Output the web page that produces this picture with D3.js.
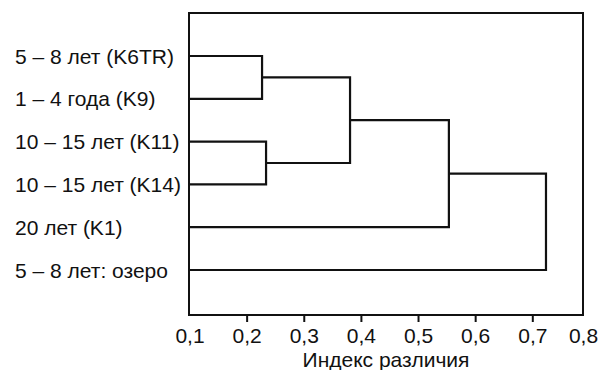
<!DOCTYPE html>
<html>
<head>
<meta charset="utf-8">
<script src="https://cdn.jsdelivr.net/npm/d3@7"></script>
<style>
  html, body { margin: 0; padding: 0; background: #fff; }
  svg { display: block; }
  text { font-family: "Liberation Sans", Arial, sans-serif; fill: #111; }
</style>
</head>
<body>
<svg id="chart" width="600" height="370"></svg>
<script>
// Leaves (top to bottom)
const leaves = ["5 – 8 лет (K6TR)", "1 – 4 года (K9)", "10 – 15 лет (K11)", "10 – 15 лет (K14)", "20 лет (K1)", "5 – 8 лет: озеро"];
// Linkage: node index n+i is created by merge i (n = number of leaves)
const mergeA = [0, 2, 6, 8, 9];
const mergeB = [1, 3, 7, 4, 5];
const mergeHeight = [0.227, 0.234, 0.381, 0.554, 0.727];
// Axis
const tickValues = [0.1, 0.2, 0.3, 0.4, 0.5, 0.6, 0.7, 0.8];
const axisTitle = "Индекс различия";

const svg = d3.select("#chart");
const frame = { left: 189, right: 583, top: 13, bottom: 315 };
const fontSize = 21;

const x = d3.scaleLinear().domain([0.1, 0.7, 0.8]).range([189.5, 532.3, 583]);
const y = d3.scalePoint().domain(d3.range(leaves.length)).range([56, 270]);

const n = leaves.length;
const nodeX = [], nodeY = [];
leaves.forEach((l, i) => { nodeX[i] = x.domain()[0]; nodeY[i] = y(i); });
mergeA.forEach((a, i) => {
  const b = mergeB[i];
  nodeX[n + i] = mergeHeight[i];
  nodeY[n + i] = (nodeY[a] + nodeY[b]) / 2;
});

const g = svg.append("g");
const stroke = "#111";
mergeA.forEach((a, i) => {
  const b = mergeB[i];
  const hx = x(mergeHeight[i]);
  const path = d3.path();
  path.moveTo(x(nodeX[a]), nodeY[a]);
  path.lineTo(hx, nodeY[a]);
  path.lineTo(hx, nodeY[b]);
  path.lineTo(x(nodeX[b]), nodeY[b]);
  g.append("path").attr("d", path.toString())
    .attr("fill", "none").attr("stroke", stroke).attr("stroke-width", 2.2)
    .attr("stroke-linejoin", "miter");
});

// Frame
svg.append("rect")
  .attr("x", frame.left).attr("y", frame.top)
  .attr("width", frame.right - frame.left).attr("height", frame.bottom - frame.top)
  .attr("fill", "none").attr("stroke", stroke).attr("stroke-width", 2);

// Leaf labels
svg.append("g").selectAll("text").data(leaves).join("text")
  .attr("x", 15).attr("y", (d, i) => y(i)).attr("dy", "0.36em")
  .attr("font-size", fontSize).text(d => d);

// X axis
const axis = d3.axisBottom(x).tickValues(tickValues)
  .tickSize(7).tickPadding(6)
  .tickFormat(d => d3.format(".1f")(d).replace(".", ","));
const ax = svg.append("g").attr("transform", `translate(0,${frame.bottom})`).call(axis);
ax.select(".domain").remove();
ax.selectAll(".tick line").attr("stroke", stroke).attr("stroke-width", 2)
  .filter(d => d === tickValues[0] || d === tickValues[tickValues.length - 1]).remove();
ax.selectAll(".tick text").attr("font-size", fontSize).attr("font-family", "Liberation Sans, Arial, sans-serif").attr("fill", "#111");

svg.append("text")
  .attr("x", (frame.left + frame.right) / 2).attr("y", 367)
  .attr("text-anchor", "middle").attr("font-size", fontSize).text(axisTitle);
</script>
</body>
</html>
